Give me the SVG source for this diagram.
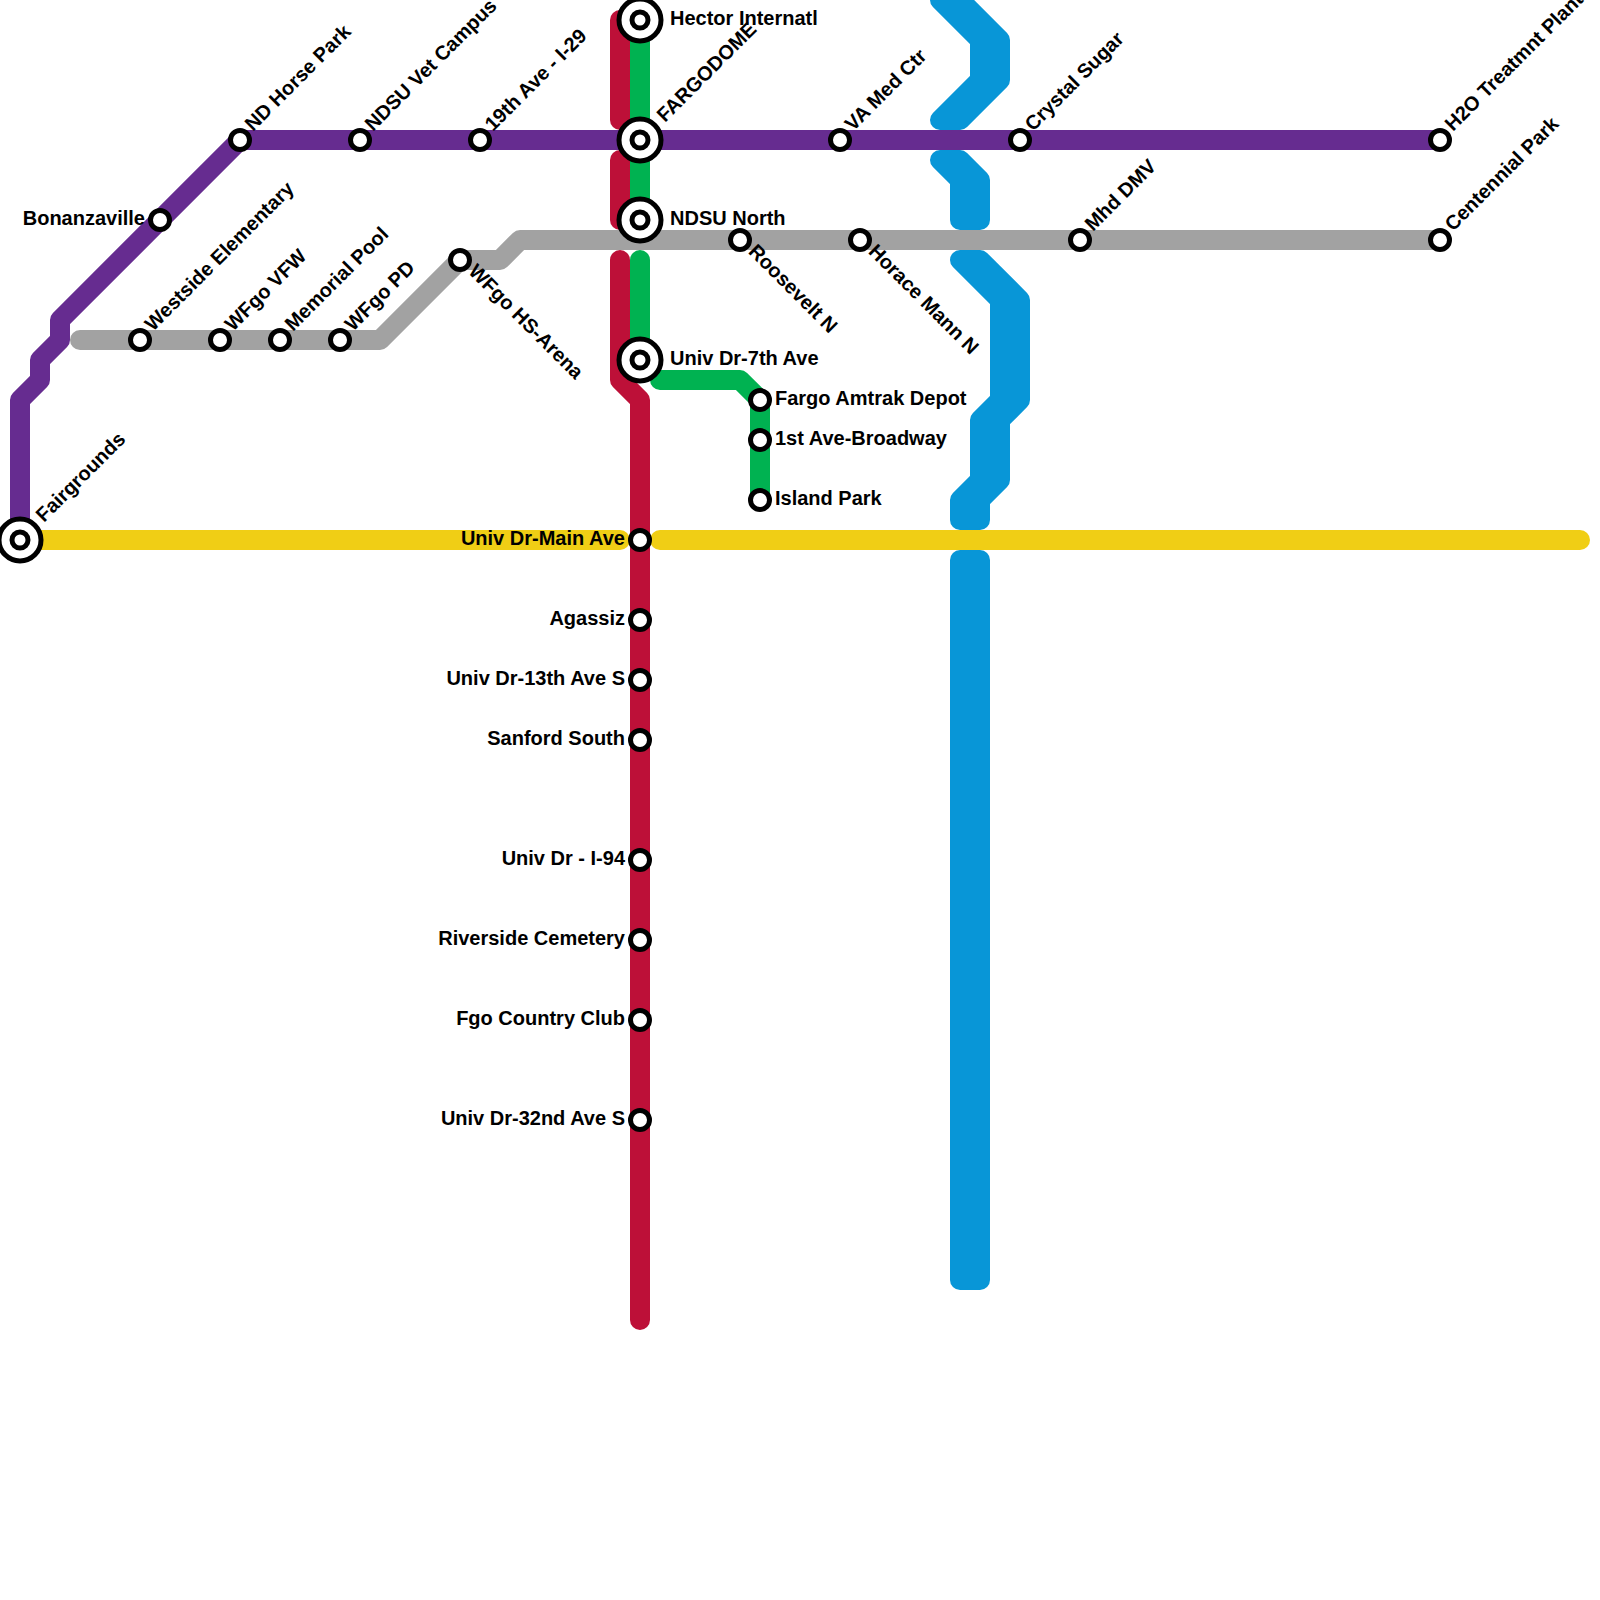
<svg xmlns="http://www.w3.org/2000/svg" width="1600" height="1600" viewBox="0 0 1600 1600">
<style>
.l{fill:none;stroke-width:20;stroke-linecap:round;stroke-linejoin:round}
.b{fill:#0896d7;stroke:#0896d7;stroke-width:20;stroke-linejoin:round}
.purple{stroke:#662c90}.red{stroke:#bd1038}.green{stroke:#00b251}.gray{stroke:#a2a2a2}.yellow{stroke:#f0ce15}
.s{fill:#fff;stroke:#000;stroke-width:5}
.i{fill:#fff;stroke:#000;stroke-width:5}
text{font-family:"Liberation Sans",Arial,sans-serif;font-weight:bold;font-size:20px;fill:#000}
.e{text-anchor:end}
</style>
<rect width="1600" height="1600" fill="#fff"/>
<g id="connectors">
<path class="b" d="M940 0H960L1000 40V80L960 120H940L980 80V40Z"/>
<path class="b" d="M940 160H960L980 180V220H960V180Z"/>
<path class="b" d="M960 260H980L1020 300V400L1000 420V480L980 500V520H960V500L980 480V420L1000 400V300Z"/>
<path class="b" d="M960 560H980V1280H960Z"/>
<path class="l red" d="M620 20V120"/>
<path class="l red" d="M620 160V220"/>
<path class="l red" d="M620 260V380L640 400V1320"/>
<path class="l green" d="M640 20V120"/>
<path class="l green" d="M640 160V220"/>
<path class="l green" d="M640 260V360"/>
<path class="l green" d="M660 380H740L760 400V500"/>
<path class="l purple" d="M20 540V400L40 380V360L60 340V320L240 140H1440"/>
<path class="l gray" d="M80 340H380L460 260H500L520 240H1440"/>
<path class="l yellow" d="M20 540H620"/>
<path class="l yellow" d="M660 540H1580"/>
</g>
<g id="st-hector"><circle class="i" cx="640" cy="20" r="21"/><circle class="i" cx="640" cy="20" r="8"/><text x="670" y="25">Hector Internatl</text></g>
<g id="st-fargodome"><circle class="i" cx="640" cy="140" r="21"/><circle class="i" cx="640" cy="140" r="8"/><text transform="translate(665 123) rotate(-45)">FARGODOME</text></g>
<g id="st-ndsu-north"><circle class="i" cx="640" cy="220" r="21"/><circle class="i" cx="640" cy="220" r="8"/><text x="670" y="225">NDSU North</text></g>
<g id="st-7th"><circle class="i" cx="640" cy="360" r="21"/><circle class="i" cx="640" cy="360" r="8"/><text x="670" y="365">Univ Dr-7th Ave</text></g>
<g id="st-fairgrounds"><circle class="i" cx="20" cy="540" r="21"/><circle class="i" cx="20" cy="540" r="8"/><text transform="translate(44 523) rotate(-45)">Fairgrounds</text></g>
<g id="st-ndhorse"><circle class="s" cx="240" cy="140" r="9.5"/><text transform="translate(253 132) rotate(-45)">ND Horse Park</text></g>
<g id="st-vet"><circle class="s" cx="360" cy="140" r="9.5"/><text transform="translate(373 132) rotate(-45)">NDSU Vet Campus</text></g>
<g id="st-19th"><circle class="s" cx="480" cy="140" r="9.5"/><text transform="translate(493 132) rotate(-45)">19th Ave - I-29</text></g>
<g id="st-va"><circle class="s" cx="840" cy="140" r="9.5"/><text transform="translate(853 132) rotate(-45)">VA Med Ctr</text></g>
<g id="st-crystal"><circle class="s" cx="1020" cy="140" r="9.5"/><text transform="translate(1033 132) rotate(-45)">Crystal Sugar</text></g>
<g id="st-h2o"><circle class="s" cx="1440" cy="140" r="9.5"/><text transform="translate(1453 132) rotate(-45)">H2O Treatmnt Plant</text></g>
<g id="st-bonanza"><circle class="s" cx="160" cy="220" r="9.5"/><text class="e" x="145" y="225">Bonanzaville</text></g>
<g id="st-westside"><circle class="s" cx="140" cy="340" r="9.5"/><text transform="translate(153 332) rotate(-45)">Westside Elementary</text></g>
<g id="st-vfw"><circle class="s" cx="220" cy="340" r="9.5"/><text transform="translate(233 332) rotate(-45)">WFgo VFW</text></g>
<g id="st-pool"><circle class="s" cx="280" cy="340" r="9.5"/><text transform="translate(293 332) rotate(-45)">Memorial Pool</text></g>
<g id="st-pd"><circle class="s" cx="340" cy="340" r="9.5"/><text transform="translate(353 332) rotate(-45)">WFgo PD</text></g>
<g id="st-arena"><circle class="s" cx="460" cy="260" r="9.5"/><text transform="translate(467.5 272.5) rotate(45)">WFgo HS-Arena</text></g>
<g id="st-roosevelt"><circle class="s" cx="740" cy="240" r="9.5"/><text transform="translate(747.5 252.5) rotate(45)">Roosevelt N</text></g>
<g id="st-horace"><circle class="s" cx="860" cy="240" r="9.5"/><text transform="translate(867.5 252.5) rotate(45)">Horace Mann N</text></g>
<g id="st-mhd"><circle class="s" cx="1080" cy="240" r="9.5"/><text transform="translate(1093 232) rotate(-45)">Mhd DMV</text></g>
<g id="st-centennial"><circle class="s" cx="1440" cy="240" r="9.5"/><text transform="translate(1453 232) rotate(-45)">Centennial Park</text></g>
<g id="st-amtrak"><circle class="s" cx="760" cy="400" r="9.5"/><text x="775" y="405">Fargo Amtrak Depot</text></g>
<g id="st-1st"><circle class="s" cx="760" cy="440" r="9.5"/><text x="775" y="445">1st Ave-Broadway</text></g>
<g id="st-island"><circle class="s" cx="760" cy="500" r="9.5"/><text x="775" y="505">Island Park</text></g>
<g id="st-main"><circle class="s" cx="640" cy="540" r="9.5"/><text class="e" x="625" y="545">Univ Dr-Main Ave</text></g>
<g id="st-agassiz"><circle class="s" cx="640" cy="620" r="9.5"/><text class="e" x="625" y="625">Agassiz</text></g>
<g id="st-13th"><circle class="s" cx="640" cy="680" r="9.5"/><text class="e" x="625" y="685">Univ Dr-13th Ave S</text></g>
<g id="st-sanford"><circle class="s" cx="640" cy="740" r="9.5"/><text class="e" x="625" y="745">Sanford South</text></g>
<g id="st-i94"><circle class="s" cx="640" cy="860" r="9.5"/><text class="e" x="625" y="865">Univ Dr - I-94</text></g>
<g id="st-riverside"><circle class="s" cx="640" cy="940" r="9.5"/><text class="e" x="625" y="945">Riverside Cemetery</text></g>
<g id="st-club"><circle class="s" cx="640" cy="1020" r="9.5"/><text class="e" x="625" y="1025">Fgo Country Club</text></g>
<g id="st-32nd"><circle class="s" cx="640" cy="1120" r="9.5"/><text class="e" x="625" y="1125">Univ Dr-32nd Ave S</text></g>
</svg>
